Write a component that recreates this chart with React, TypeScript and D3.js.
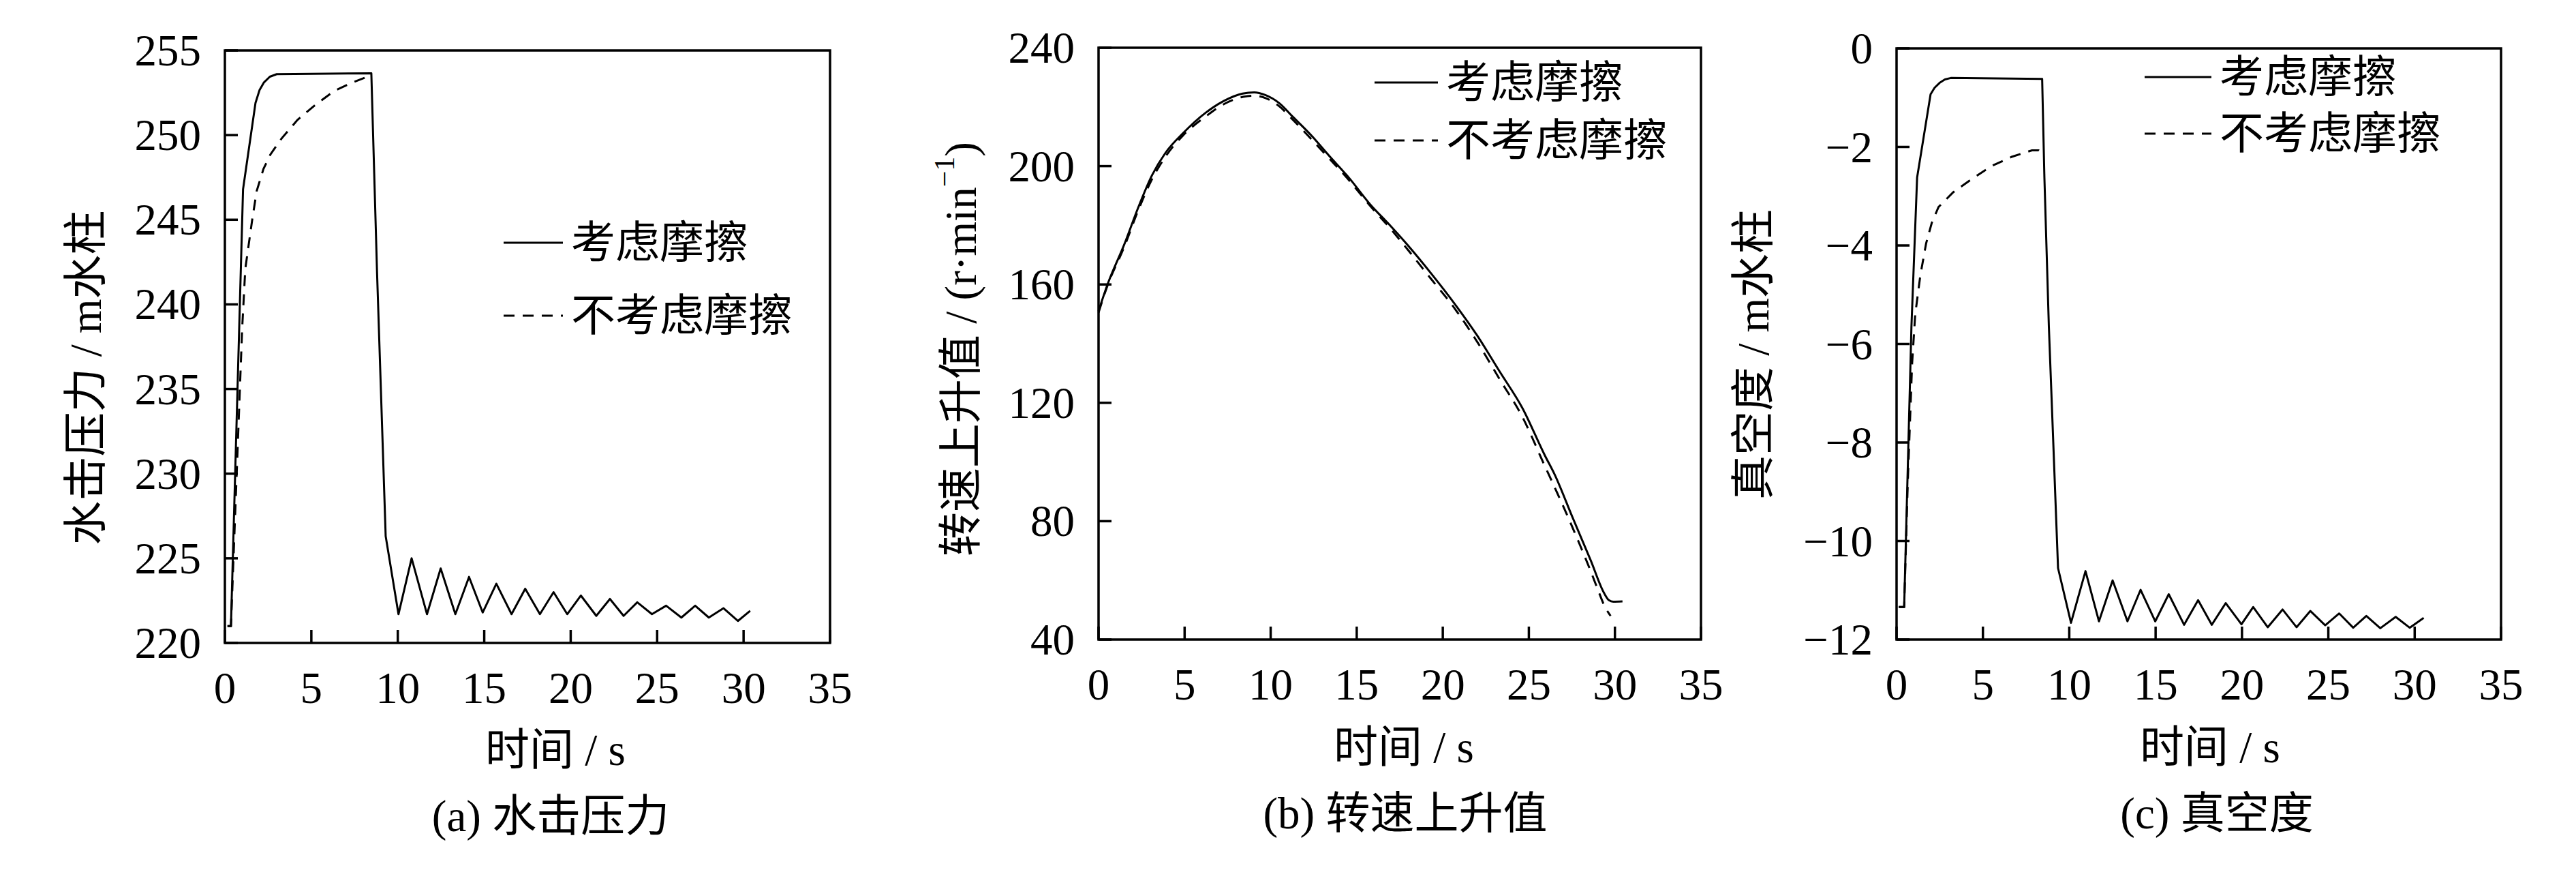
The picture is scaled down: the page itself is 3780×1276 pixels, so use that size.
import React from 'react';
import * as d3 from 'd3';

// time axis shared by all three panels
const timeTicks = [0, 5, 10, 15, 20, 25, 30, 35];

const legendLabels = ['考虑摩擦', '不考虑摩擦'];

// (a) water hammer pressure, m water column
const pressureTicks = [220, 225, 230, 235, 240, 245, 250, 255];
const pressureFriction: [number, number][] = [
  [0.15, 221.0], [0.35, 221.0], [1.05, 246.8], [1.77, 251.9], [2.0, 252.65], [2.25, 253.1],
  [2.6, 253.45], [3.0, 253.6], [8.47, 253.65], [8.8, 241.9], [9.3, 226.3], [10.04, 221.7],
  [10.8, 225.0], [11.69, 221.7], [12.48, 224.4], [13.33, 221.7], [14.12, 223.9], [14.91, 221.8],
  [15.7, 223.5], [16.58, 221.7], [17.37, 223.2], [18.22, 221.7], [19.01, 223.0], [19.8, 221.7],
  [20.59, 222.8], [21.48, 221.6], [22.27, 222.6], [23.06, 221.6], [23.85, 222.4], [24.7, 221.7],
  [25.52, 222.2], [26.4, 221.5], [27.2, 222.2], [27.99, 221.5], [28.84, 222.05], [29.67, 221.3],
  [30.38, 221.9],
];
const pressureNoFriction: [number, number][] = [
  [0.15, 221.0], [0.35, 221.0], [1.0, 238.6], [1.18, 242.1], [1.58, 245.0], [1.84, 246.7],
  [2.23, 248.0], [2.63, 248.85], [3.28, 249.8], [4.2, 250.9], [5.25, 251.8], [6.31, 252.6],
  [7.36, 253.1], [8.0, 253.35], [8.45, 253.55],
];

// (b) speed rise, r/min
const speedTicks = [40, 80, 120, 160, 200, 240];
const speedFriction: [number, number][] = [
  [0, 151], [0.51, 159.8], [1.5, 173.6], [2.3, 185.9], [3.09, 196.7], [3.88, 204.4],
  [4.94, 211.3], [6.26, 218.2], [7.31, 222.1], [8.37, 224.5], [9.04, 224.9], [9.69, 224.0],
  [10.49, 221.3], [11.28, 216.7], [12.34, 210.5], [13.38, 203.6], [14.57, 195.9], [15.76, 187.2],
  [16.96, 179.8], [18.02, 172.9], [19.34, 163.6], [20.66, 153.7], [21.98, 142.9], [23.3, 130.6],
  [24.62, 118.3], [25.94, 102.1], [26.48, 96.0], [27.53, 81.4], [28.59, 66.8], [29.38, 55.6],
  [29.65, 53.3], [29.9, 52.8], [30.44, 52.9],
];
const speedNoFriction: [number, number][] = [
  [0, 150.5], [0.5, 159.3], [1.5, 172.8], [2.3, 185], [3.1, 195.5], [3.9, 203.3],
  [4.9, 210.3], [6.3, 217.1], [7.3, 221.0], [8.4, 223.4], [9.0, 223.8], [9.7, 223.0],
  [10.5, 220.2], [11.3, 215.6], [12.3, 209.5], [13.4, 202.6], [14.6, 194.9], [15.8, 186.4],
  [17.0, 178.6], [18.0, 171.5], [19.3, 162], [20.7, 151.8], [22.0, 140.6], [23.3, 128],
  [24.6, 115.5], [25.9, 99], [27.0, 85], [28.0, 71.5], [28.6, 63], [29.0, 57],
  [29.4, 51.3], [29.75, 48],
];

// (c) vacuum, m water column
const vacuumTicks = [-12, -10, -8, -6, -4, -2, 0];
const vacuumFriction: [number, number][] = [
  [0.13, -11.34], [0.44, -11.34], [0.86, -5.66], [1.19, -2.62], [1.97, -0.93], [2.2, -0.8],
  [2.49, -0.7], [2.8, -0.63], [3.14, -0.6], [8.43, -0.62], [8.56, -2.62], [8.82, -5.66],
  [9.35, -10.55], [10.1, -11.66], [10.94, -10.61], [11.72, -11.63], [12.51, -10.8], [13.37, -11.63],
  [14.13, -10.99], [14.98, -11.63], [15.76, -11.08], [16.65, -11.7], [17.46, -11.2], [18.25, -11.7],
  [19.06, -11.26], [19.97, -11.69], [20.65, -11.34], [21.49, -11.75], [22.35, -11.39], [23.16, -11.75],
  [23.96, -11.42], [24.82, -11.71], [25.63, -11.47], [26.44, -11.76], [27.2, -11.52], [28.01, -11.77],
  [28.9, -11.54], [29.71, -11.76], [30.52, -11.56],
];
const vacuumNoFriction: [number, number][] = [
  [0.13, -11.34], [0.44, -11.34], [0.65, -8.8], [0.9, -6.4], [1.08, -5.4], [1.38, -4.6],
  [1.71, -3.96], [2.04, -3.54], [2.43, -3.22], [3.28, -2.92], [4.32, -2.66], [5.49, -2.39],
  [6.67, -2.2], [7.84, -2.07], [8.23, -2.07], [8.43, -2.13],
];

const FONT = "'Liberation Serif', 'Times New Roman', 'Noto Sans CJK SC', serif";
const FS = 65;

type PanelProps = {
  box: { left: number; right: number; top: number; bottom: number };
  yDomain: [number, number];
  yTicks: number[];
  solid: [number, number][];
  dashed: [number, number][];
  smooth?: boolean;
  legend: { x1: number; x2: number; y1: number; y2: number };
  yLabel: React.ReactNode;
  yLabelPos: [number, number];
  xLabelPos: [number, number];
  caption: string;
  captionPos: [number, number];
};

const fmt = (v: number) => (v < 0 ? '\u2212' + Math.abs(v) : String(v));

const Panel = ({ box, yDomain, yTicks, solid, dashed, smooth, legend, yLabel, yLabelPos, xLabelPos, caption, captionPos }: PanelProps) => {
  const x = d3.scaleLinear().domain([0, 35]).range([box.left, box.right]);
  const y = d3.scaleLinear().domain(yDomain).range([box.bottom, box.top]);
  const line = d3.line<[number, number]>()
    .x(d => x(d[0]))
    .y(d => y(d[1]))
    .curve(smooth ? d3.curveMonotoneX : d3.curveLinear);
  const tick = 19;

  return (
    <g fontFamily={FONT} fontSize={FS} fill="#000">
      <path d={line(dashed) ?? ''} fill="none" stroke="#000" strokeWidth={3} strokeDasharray="16,12" />
      <path d={line(solid) ?? ''} fill="none" stroke="#000" strokeWidth={3} strokeLinejoin="round" />

      <rect x={box.left} y={box.top} width={box.right - box.left} height={box.bottom - box.top}
        fill="none" stroke="#000" strokeWidth={3.5} />

      {yTicks.map(t => (
        <g key={'y' + t}>
          <line x1={box.left} x2={box.left + tick} y1={y(t)} y2={y(t)} stroke="#000" strokeWidth={3.5} />
          <text x={box.left - 35} y={y(t) + 22} textAnchor="end">{fmt(t)}</text>
        </g>
      ))}
      {timeTicks.map(t => (
        <g key={'x' + t}>
          <line x1={x(t)} x2={x(t)} y1={box.bottom} y2={box.bottom - tick} stroke="#000" strokeWidth={3.5} />
          <text x={x(t)} y={box.bottom + 88} textAnchor="middle">{t}</text>
        </g>
      ))}

      <line x1={legend.x1} x2={legend.x2} y1={legend.y1} y2={legend.y1} stroke="#000" strokeWidth={3} />
      <text x={legend.x2 + 12} y={legend.y1} dominantBaseline="central">{legendLabels[0]}</text>
      <line x1={legend.x1} x2={legend.x2} y1={legend.y2} y2={legend.y2} stroke="#000" strokeWidth={3} strokeDasharray="16,12" />
      <text x={legend.x2 + 12} y={legend.y2} dominantBaseline="central">{legendLabels[1]}</text>

      <text transform={`translate(${yLabelPos[0]},${yLabelPos[1]}) rotate(-90)`} textAnchor="middle" dominantBaseline="central">
        {yLabel}
      </text>
      <text x={xLabelPos[0]} y={xLabelPos[1]} textAnchor="middle">时间 / s</text>
      <text x={captionPos[0]} y={captionPos[1]} textAnchor="middle">{caption}</text>
    </g>
  );
};

const App = () => (
  <svg width={3780} height={1276} style={{ position: 'absolute', left: 0, top: 0, background: '#fff' }}>
    <rect width={3780} height={1276} fill="#fff" />
    <Panel
      box={{ left: 330, right: 1218, top: 74, bottom: 943 }}
      yDomain={[220, 255]}
      yTicks={pressureTicks}
      solid={pressureFriction}
      dashed={pressureNoFriction}
      legend={{ x1: 739, x2: 826, y1: 356, y2: 463 }}
      yLabel="水击压力 / m水柱"
      yLabelPos={[126, 554]}
      xLabelPos={[815, 1122]}
      caption="(a) 水击压力"
      captionPos={[808, 1219]}
    />
    <Panel
      box={{ left: 1612, right: 2496, top: 70, bottom: 938 }}
      yDomain={[40, 240]}
      yTicks={speedTicks}
      solid={speedFriction}
      dashed={speedNoFriction}
      smooth
      legend={{ x1: 2017, x2: 2110, y1: 121, y2: 206 }}
      yLabel={<>转速上升值 / (r·min<tspan dy={-24} fontSize={42}>−1</tspan><tspan dy={24}>)</tspan></>}
      yLabelPos={[1410, 512]}
      xLabelPos={[2060, 1118]}
      caption="(b) 转速上升值"
      captionPos={[2062, 1215]}
    />
    <Panel
      box={{ left: 2783, right: 3670, top: 71, bottom: 938 }}
      yDomain={[-12, 0]}
      yTicks={vacuumTicks}
      solid={vacuumFriction}
      dashed={vacuumNoFriction}
      legend={{ x1: 3147, x2: 3245, y1: 113, y2: 196 }}
      yLabel="真空度 / m水柱"
      yLabelPos={[2573, 520]}
      xLabelPos={[3243, 1118]}
      caption="(c) 真空度"
      captionPos={[3253, 1215]}
    />
  </svg>
);

export default App;
